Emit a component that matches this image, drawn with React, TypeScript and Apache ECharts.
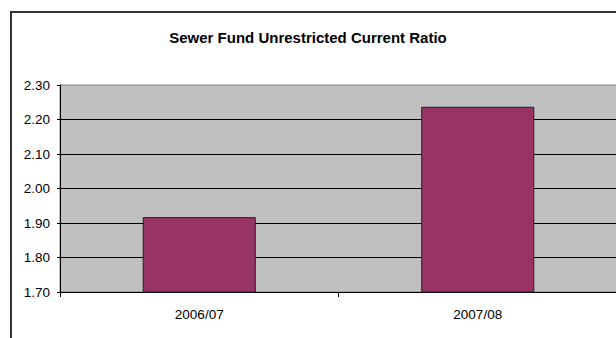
import React, { useEffect, useRef } from "react";
import * as echarts from "echarts";

const categories: string[] = ["2006/07", "2007/08"];
const ratioValues: number[] = [1.917, 2.237];
const titleText = "Sewer Fund Unrestricted Current Ratio";
const yMin = 1.7;
const yMax = 2.3;
const yStep = 0.1;

const FONT = "'Liberation Sans', Arial, sans-serif";

export default function App() {
  const ref = useRef<HTMLDivElement>(null);
  useEffect(() => {
    if (!ref.current) return;
    const chart = echarts.init(ref.current, null, { renderer: "svg" });
    chart.setOption({
      animation: false,
      backgroundColor: "#ffffff",
      title: {
        text: titleText,
        left: "center",
        top: 25,
        textStyle: { fontFamily: FONT, fontSize: 15, fontWeight: "bold", color: "#000" },
      },
      graphic: [
        {
          type: "rect",
          shape: { x: 11, y: 12, width: 800, height: 500 },
          style: { fill: "none", stroke: "#333", lineWidth: 2 },
          silent: true,
          z: 100,
        },
      ],
      grid: {
        left: 60,
        top: 85,
        right: -1,
        bottom: 46,
        outerBoundsMode: "none",
        containLabel: false,
        show: true,
        backgroundColor: "#C0C0C0",
        borderColor: "#808080",
        borderWidth: 1,
      },
      xAxis: {
        type: "category",
        data: categories,
        axisLine: { show: true, lineStyle: { color: "#000", width: 1 } },
        axisTick: { show: true, length: 5, lineStyle: { color: "#000" } },
        axisLabel: { fontFamily: FONT, fontSize: 13.5, color: "#000", margin: 15 },
      },
      yAxis: {
        type: "value",
        min: yMin,
        max: yMax,
        interval: yStep,
        axisLine: { show: true, lineStyle: { color: "#000", width: 1 } },
        axisTick: { show: true, length: 3, lineStyle: { color: "#000" } },
        axisLabel: {
          fontFamily: FONT,
          fontSize: 13.5,
          color: "#000",
          margin: 10,
          formatter: (v: number) => v.toFixed(2),
        },
        splitLine: { show: true, showMaxLine: false, lineStyle: { color: "#000", width: 1 } },
      },
      series: [
        {
          type: "bar",
          data: ratioValues,
          barWidth: "40.6%",
          itemStyle: { color: "#993366", borderColor: "#222", borderWidth: 1 },
        },
      ],
    });
    return () => chart.dispose();
  }, []);
  return (
    <div
      ref={ref}
      style={{ position: "absolute", left: 0, top: 0, width: 616, height: 338 }}
    />
  );
}
